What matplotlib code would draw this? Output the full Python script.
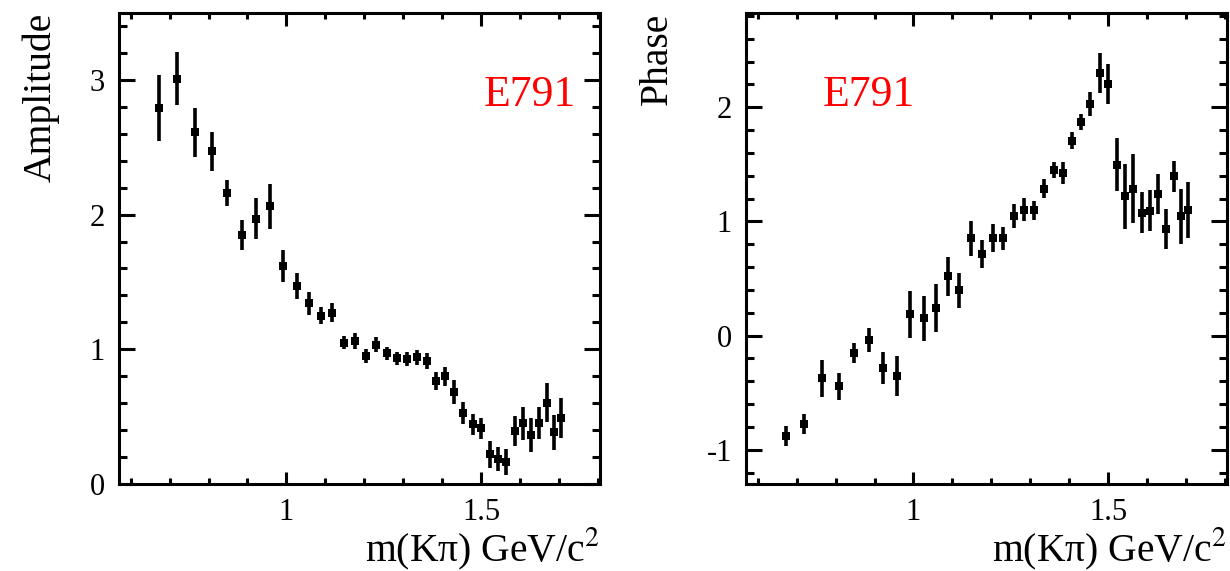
import matplotlib
matplotlib.use("Agg")
import matplotlib.pyplot as plt
from matplotlib.ticker import MultipleLocator

plt.rcParams["font.family"] = ["Liberation Serif", "DejaVu Serif"]
plt.rcParams["mathtext.fontset"] = "stix"

# K-pi invariant mass bin centres (GeV/c^2)
mass = [0.672, 0.720, 0.765, 0.808, 0.847, 0.885, 0.923, 0.959, 0.992, 1.026,
        1.057, 1.088, 1.118, 1.148, 1.176, 1.204, 1.231, 1.258, 1.284, 1.310,
        1.336, 1.360, 1.385, 1.408, 1.431, 1.454, 1.478, 1.500, 1.522, 1.543,
        1.565, 1.586, 1.607, 1.627, 1.648, 1.669, 1.687, 1.706]

# S-wave amplitude and its uncertainty
amplitude = [2.79, 3.01, 2.61, 2.47, 2.16, 1.85, 1.97, 2.06, 1.62, 1.47,
             1.34, 1.25, 1.27, 1.05, 1.06, 0.95, 1.035, 0.97, 0.933, 0.928,
             0.941, 0.911, 0.763, 0.80, 0.684, 0.528, 0.442, 0.412, 0.22, 0.188,
             0.163, 0.393, 0.449, 0.365, 0.454, 0.602, 0.385, 0.489]
amplitude_err = [0.247, 0.20, 0.18, 0.145, 0.10, 0.11, 0.15, 0.17, 0.12, 0.095,
                 0.085, 0.065, 0.07, 0.05, 0.06, 0.05, 0.055, 0.05, 0.05, 0.055,
                 0.055, 0.06, 0.065, 0.07, 0.09, 0.08, 0.08, 0.08, 0.10, 0.09,
                 0.10, 0.11, 0.125, 0.125, 0.12, 0.145, 0.13, 0.15]

# S-wave phase (rad) and its uncertainty
phase = [-0.883, -0.775, -0.376, -0.446, -0.149, -0.041, -0.288, -0.358, 0.186, 0.151,
         0.239, 0.518, 0.396, 0.853, 0.711, 0.853, 0.853, 1.046, 1.101, 1.098,
         1.288, 1.451, 1.424, 1.707, 1.870, 2.027, 2.304, 2.202, 1.497, 1.220,
         1.288, 1.075, 1.095, 1.241, 0.935, 1.395, 1.046, 1.098]
phase_err = [0.087, 0.087, 0.16, 0.12, 0.087, 0.105, 0.14, 0.175, 0.204, 0.195,
             0.21, 0.172, 0.154, 0.154, 0.122, 0.12, 0.10, 0.108, 0.10, 0.085,
             0.087, 0.067, 0.093, 0.073, 0.073, 0.105, 0.175, 0.175, 0.233, 0.283,
             0.303, 0.18, 0.178, 0.175, 0.178, 0.137, 0.242, 0.245]

experiment = "E791"
x_title = "m(K\u03c0) GeV/c$^{2}$"

fig = plt.figure(figsize=(12.3, 5.71), dpi=100)
ax_amp = fig.add_axes([0.0967, 0.1524, 0.391, 0.8257])
ax_ph = fig.add_axes([0.6065, 0.1524, 0.391, 0.8257])


def style_axes(ax):
    for sp in ax.spines.values():
        sp.set_linewidth(2.2)
    ax.xaxis.set_major_locator(MultipleLocator(0.5))
    ax.xaxis.set_minor_locator(MultipleLocator(0.1))
    ax.yaxis.set_major_locator(MultipleLocator(1))
    ax.yaxis.set_minor_locator(MultipleLocator(0.2))
    ax.tick_params(which="both", direction="in", top=True, right=True,
                   width=2.2, labelsize=22, pad=10)
    ax.tick_params(axis="x", which="major", length=9)
    ax.tick_params(axis="x", which="minor", length=4.5)
    ax.tick_params(axis="y", which="major", length=11.5)
    ax.tick_params(axis="y", which="minor", length=6)
    ax.xaxis.set_major_formatter(plt.FuncFormatter(lambda v, p: f"{v:g}"))
    ax.yaxis.set_major_formatter(plt.FuncFormatter(lambda v, p: f"{v:g}"))


def draw_points(ax, y, yerr):
    ax.errorbar(mass, y, yerr=yerr, fmt="s", color="black", ms=6,
                elinewidth=2.6, capsize=1.8, capthick=2.6, mew=0)


draw_points(ax_amp, amplitude, amplitude_err)
style_axes(ax_amp)
ax_amp.set_xlim(0.57, 1.805)
ax_amp.set_ylim(0, 3.5)
ax_amp.set_xlabel(x_title, fontsize=28.5, loc="right", labelpad=-1)
ax_amp.set_ylabel("Amplitude", fontsize=28.5, loc="top", labelpad=22)
ax_amp.text(0.950, 0.802, experiment, transform=ax_amp.transAxes, color="red",
            fontsize=31.5, ha="right", va="baseline")

draw_points(ax_ph, phase, phase_err)
style_axes(ax_ph)
ax_ph.set_xlim(0.57, 1.805)
ax_ph.set_ylim(-1.3, 2.83)
ax_ph.set_xlabel(x_title, fontsize=28.5, loc="right", labelpad=-1)
ax_ph.set_ylabel("Phase", fontsize=28.5, loc="top", labelpad=22)
ax_ph.text(0.160, 0.802, experiment, transform=ax_ph.transAxes, color="red",
           fontsize=31.5, ha="left", va="baseline")

fig.savefig("out.png", dpi=100)
